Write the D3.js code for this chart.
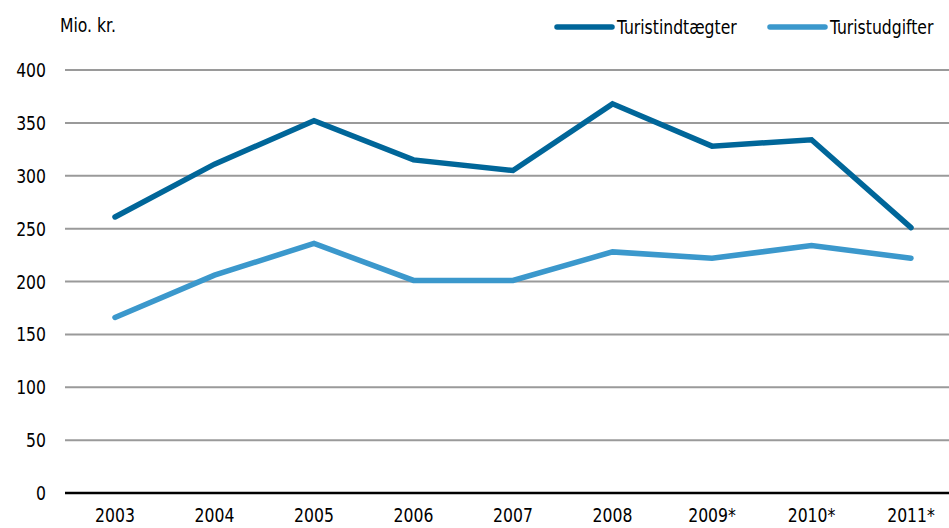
<!DOCTYPE html>
<html>
<head>
<meta charset="utf-8">
<script src="https://cdn.jsdelivr.net/npm/d3@7"></script>
<style>
  body { margin: 0; background: #fff; }
  svg text { font-family: "DejaVu Sans Condensed", "DejaVu Sans", sans-serif; font-size: 20px; fill: #000; }
</style>
</head>
<body>
<script>
// data
const years = ["2003", "2004", "2005", "2006", "2007", "2008", "2009*", "2010*", "2011*"];
const indtaegter = [261, 311, 352, 315, 305, 368, 328, 334, 251];
const udgifter = [166, 206, 236, 201, 201, 228, 222, 234, 222];
const yTicks = [0, 50, 100, 150, 200, 250, 300, 350, 400];

const width = 949, height = 528;
const squeeze = 0.87; // reference font is a narrow one

const series = [
  { name: "Turistindtægter", values: indtaegter, color: "#006699" },
  { name: "Turistudgifter", values: udgifter, color: "#3b98cc" }
];

const svg = d3.select("body").append("svg")
  .attr("width", width)
  .attr("height", height);

const x = d3.scalePoint()
  .domain(years)
  .range([115, 911]);

const y = d3.scaleLinear()
  .domain([0, 400])
  .range([493, 70]);

const place = (px, py) => "translate(" + px + "," + py + ") scale(" + squeeze + ",1)";

// gridlines
svg.append("g")
  .selectAll("line")
  .data(yTicks.filter(d => d > 0))
  .join("line")
  .attr("x1", 65)
  .attr("x2", width)
  .attr("y1", d => y(d))
  .attr("y2", d => y(d))
  .attr("stroke", "#9a9a9a")
  .attr("stroke-width", 2);

// y axis labels
svg.append("g")
  .selectAll("text")
  .data(yTicks)
  .join("text")
  .attr("transform", d => place(46, y(d)))
  .attr("dy", "0.35em")
  .attr("text-anchor", "end")
  .text(d => d);

svg.append("text")
  .attr("transform", place(60, 32))
  .text("Mio. kr.");

// baseline
svg.append("line")
  .attr("x1", 65)
  .attr("x2", width)
  .attr("y1", y(0))
  .attr("y2", y(0))
  .attr("stroke", "#000")
  .attr("stroke-width", 2.5);

// x labels
svg.append("g")
  .selectAll("text")
  .data(years)
  .join("text")
  .attr("transform", d => place(x(d), 522))
  .attr("text-anchor", "middle")
  .text(d => d);

const line = d3.line()
  .x((d, i) => x(years[i]))
  .y(d => y(d));

svg.append("g")
  .selectAll("path")
  .data(series)
  .join("path")
  .attr("d", d => line(d.values))
  .attr("fill", "none")
  .attr("stroke", d => d.color)
  .attr("stroke-width", 5.5)
  .attr("stroke-linejoin", "miter")
  .attr("stroke-linecap", "round");

// legend
const legendX = [557, 770];
const legend = svg.append("g")
  .selectAll("g")
  .data(series)
  .join("g")
  .attr("transform", (d, i) => "translate(" + legendX[i] + ",27)");

legend.append("line")
  .attr("x1", 0)
  .attr("x2", 55)
  .attr("stroke", d => d.color)
  .attr("stroke-width", 5.5)
  .attr("stroke-linecap", "round");

legend.append("text")
  .attr("transform", place(60, 0))
  .attr("dy", "0.35em")
  .text(d => d.name);
</script>
</body>
</html>
